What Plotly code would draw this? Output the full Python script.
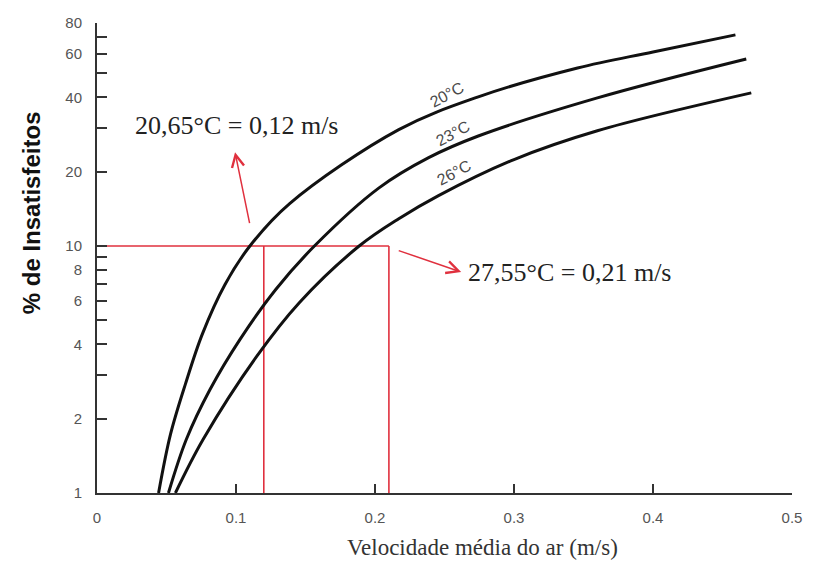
import math
import plotly.graph_objects as go

# Percentage of dissatisfied occupants vs mean air velocity, per air temperature
temps = ["20°C", "23°C", "26°C"]

v_20 = [0.0443, 0.0529, 0.0636, 0.0757, 0.0921, 0.110, 0.1386, 0.2171, 0.2743, 0.3457, 0.400, 0.4593]
pd_20 = [1.0, 1.73, 2.76, 4.39, 6.99, 10.0, 14.85, 29.6, 40.2, 52.6, 61.1, 71.6]

v_23 = [0.0514, 0.0643, 0.0814, 0.1029, 0.1286, 0.1564, 0.2029, 0.2386, 0.2743, 0.360, 0.4671]
pd_23 = [1.0, 1.65, 2.63, 4.19, 6.67, 10.0, 17.2, 22.8, 27.9, 39.8, 57.2]

v_26 = [0.0564, 0.0764, 0.115, 0.1457, 0.1886, 0.2171, 0.2457, 0.300, 0.360, 0.4707]
pd_26 = [1.0, 1.65, 3.58, 5.91, 10.0, 12.9, 16.0, 22.4, 29.3, 41.7]

# 10 % dissatisfied limit and the velocities read at that level
limit_pd = 10
limit_v = [0.12, 0.21]
limit_text = ["20,65°C = 0,12 m/s", "27,55°C = 0,21 m/s"]

y_ticks = [1, 2, 3, 4, 5, 6, 7, 8, 9, 10, 20, 30, 40, 50, 60, 70, 80]
y_labels = ["1", "2", "", "4", "", "6", "", "8", "", "10", "20", "", "40", "", "60", "", "80"]
x_ticks = [0, 0.1, 0.2, 0.3, 0.4, 0.5]
x_labels = ["0", "0.1", "0.2", "0.3", "0.4", "0.5"]

RED = "#e0303e"
SANS = "Liberation Sans, Arial, sans-serif"
SERIF = "Liberation Serif, Times New Roman, serif"

fig = go.Figure()

# red guide lines at the 10 % level
fig.add_trace(go.Scatter(x=[0, max(limit_v)], y=[limit_pd, limit_pd], mode="lines",
                         line=dict(color=RED, width=1.6), hoverinfo="skip"))
for v in limit_v:
    fig.add_trace(go.Scatter(x=[v, v], y=[1, limit_pd], mode="lines",
                             line=dict(color=RED, width=1.6), hoverinfo="skip"))

# comfort curves
for vx, py in [(v_20, pd_20), (v_23, pd_23), (v_26, pd_26)]:
    fig.add_trace(go.Scatter(x=vx, y=py, mode="lines",
                             line=dict(color="#111111", width=3, shape="spline", smoothing=1.0),
                             hoverinfo="skip"))

annotations = []

# curve labels, rotated along the curves
label_pos = [(0.252, 41.0), (0.256, 28.6), (0.257, 19.9)]
for t, (lx, ly) in zip(temps, label_pos):
    annotations.append(dict(x=lx, y=math.log10(ly), xref="x", yref="y", text=t,
                            showarrow=False, textangle=-28,
                            font=dict(family=SANS, size=16, color="#4a4a4a")))

# result labels with red arrows
annotations.append(dict(x=0.0257, y=math.log10(30.9), xref="x", yref="y", text=limit_text[0],
                        xanchor="left", yanchor="middle", showarrow=False,
                        font=dict(family=SERIF, size=26, color="#222222")))
annotations.append(dict(x=0.2657, y=math.log10(7.85), xref="x", yref="y", text=limit_text[1],
                        xanchor="left", yanchor="middle", showarrow=False,
                        font=dict(family=SERIF, size=26, color="#222222")))
annotations.append(dict(x=0.0993, y=math.log10(24.0), ax=0.110, ay=math.log10(12.2),
                        xref="x", yref="y", axref="x", ayref="y", text="",
                        showarrow=True, arrowhead=5, arrowsize=1.6, arrowwidth=1.5,
                        arrowcolor=RED))
annotations.append(dict(x=0.262, y=math.log10(7.85), ax=0.216, ay=math.log10(9.63),
                        xref="x", yref="y", axref="x", ayref="y", text="",
                        showarrow=True, arrowhead=5, arrowsize=1.6, arrowwidth=1.5,
                        arrowcolor=RED))

# axis titles
annotations.append(dict(x=-0.093, y=0.596, xref="paper", yref="paper",
                        xanchor="center", yanchor="middle",
                        text="<b>% de Insatisfeitos</b>", textangle=-90, showarrow=False,
                        font=dict(family=SANS, size=24, color="#111111")))
annotations.append(dict(x=0.554, y=-0.115, xref="paper", yref="paper",
                        xanchor="center", yanchor="middle",
                        text="Velocidade média do ar (m/s)", showarrow=False,
                        font=dict(family=SERIF, size=23, color="#333333")))

fig.update_layout(
    width=814, height=564,
    margin=dict(l=97, r=18, t=23, b=71),
    paper_bgcolor="white", plot_bgcolor="white",
    showlegend=False,
    annotations=annotations,
)

fig.update_xaxes(range=[0, 0.5], showgrid=False, zeroline=False,
                 showline=True, linecolor="#333333", linewidth=2,
                 tickvals=x_ticks, ticktext=x_labels,
                 ticks="inside", ticklen=9, tickwidth=2, tickcolor="#333333",
                 ticklabelstandoff=10,
                 tickfont=dict(family=SANS, size=15, color="#555555"))

fig.update_yaxes(type="log", range=[0, math.log10(80)], showgrid=False, zeroline=False,
                 showline=True, linecolor="#333333", linewidth=2,
                 tickvals=y_ticks, ticktext=y_labels,
                 ticks="inside", ticklen=10, tickwidth=2, tickcolor="#333333",
                 ticklabelstandoff=10,
                 tickfont=dict(family=SANS, size=15, color="#555555"))

fig.write_html("out.html")
